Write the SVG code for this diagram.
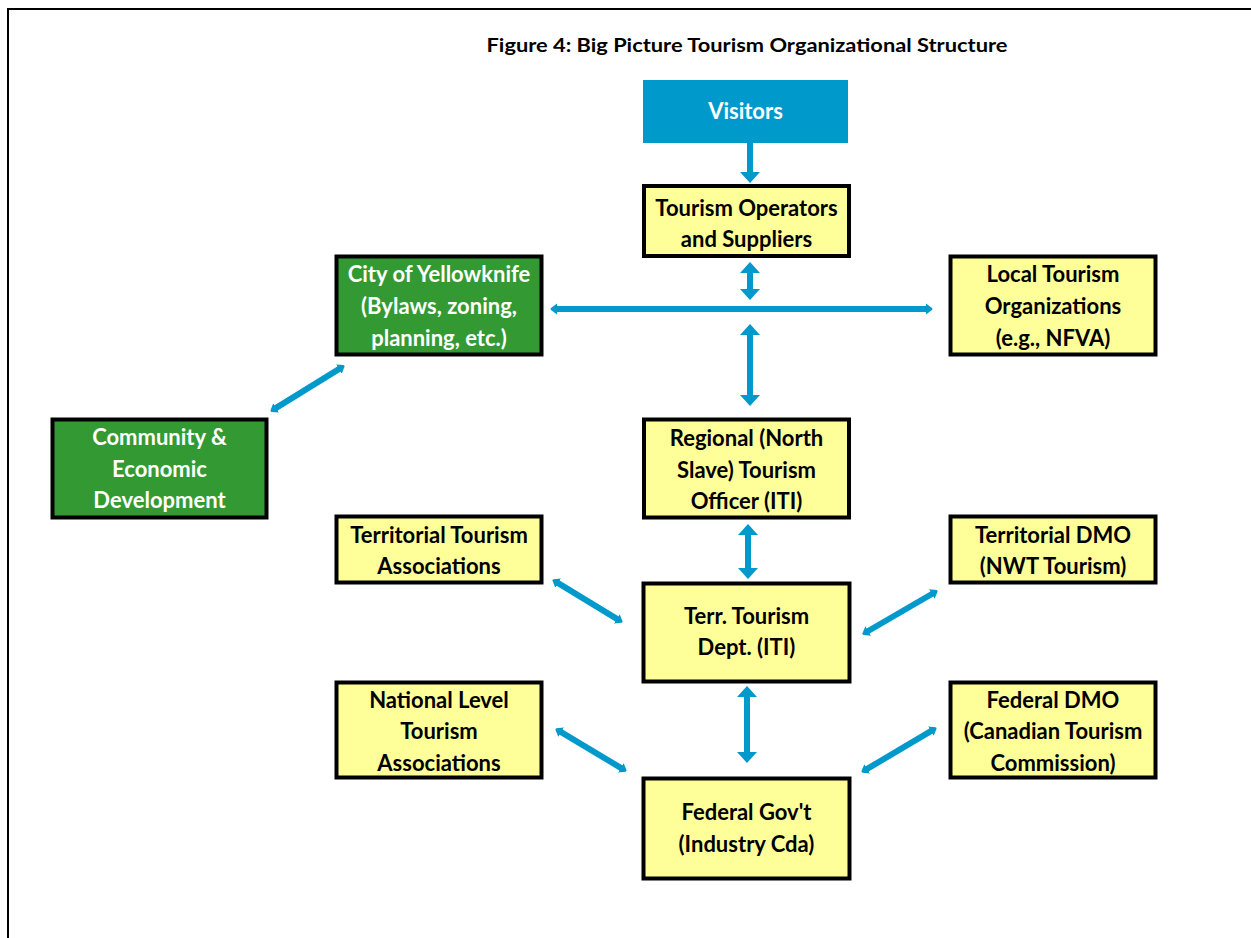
<svg xmlns="http://www.w3.org/2000/svg" width="1251" height="938" viewBox="0 0 1251 938">
<style>
.box{fill:#FFFF99;stroke:#000;stroke-width:4}
.green{fill:#339933;stroke:#000;stroke-width:4}
.blue{fill:#0099CC;stroke:none}
.t{font-family:Lato,"Liberation Sans",sans-serif;font-weight:bold;font-size:22px;text-anchor:middle;fill:#000}
.w{fill:#fff}
.c{stroke:#0099CC;stroke-width:6;fill:none}
</style>
<defs>
<marker id="big" viewBox="0 0 11 20" refX="1" refY="10" markerWidth="11" markerHeight="20" markerUnits="userSpaceOnUse" orient="auto-start-reverse">
<path d="M0,0 L11,10 L0,20 z" fill="#0099CC"/>
</marker>
<marker id="sm" viewBox="0 0 7 12" refX="1" refY="6" markerWidth="7" markerHeight="12" markerUnits="userSpaceOnUse" orient="auto-start-reverse">
<path d="M0,0.5 L6,5 Q7,6 6,7 L0,11.5 z" fill="#0099CC"/>
</marker>
</defs>
<rect width="1251" height="938" fill="#fff"/>
<path d="M8,938 V9 H1251" fill="none" stroke="#000" stroke-width="2"/>
<text x="747" y="52" style="font-family:Lato,'Liberation Sans',sans-serif;font-weight:bold;font-size:18px;text-anchor:middle" textLength="521" lengthAdjust="spacingAndGlyphs">Figure 4: Big Picture Tourism Organizational Structure</text>

<g id="connectors">
<line class="c" x1="750" y1="143" x2="750" y2="173" marker-end="url(#big)"/>
<line class="c" x1="750" y1="272" x2="750" y2="290" marker-start="url(#big)" marker-end="url(#big)"/>
<line class="c" x1="556" y1="309" x2="927" y2="309" marker-start="url(#sm)" marker-end="url(#sm)"/>
<line class="c" x1="750" y1="334" x2="750" y2="396" marker-start="url(#big)" marker-end="url(#big)"/>
<line class="c" x1="748" y1="534" x2="748" y2="569" marker-start="url(#big)" marker-end="url(#big)"/>
<line class="c" x1="747" y1="696" x2="747" y2="753" marker-start="url(#big)" marker-end="url(#big)"/>
<line class="c" x1="339.7" y1="368.6" x2="275.3" y2="408.4" marker-start="url(#sm)" marker-end="url(#sm)"/>
<line class="c" x1="557.3" y1="582.6" x2="617.7" y2="619.4" marker-start="url(#sm)" marker-end="url(#sm)"/>
<line class="c" x1="932.7" y1="593.5" x2="867.3" y2="631.5" marker-start="url(#sm)" marker-end="url(#sm)"/>
<line class="c" x1="560.3" y1="731.6" x2="621.7" y2="768.4" marker-start="url(#sm)" marker-end="url(#sm)"/>
<line class="c" x1="931.7" y1="730.6" x2="866.3" y2="769.4" marker-start="url(#sm)" marker-end="url(#sm)"/>
</g>

<g id="visitors">
<rect class="blue" x="643" y="80" width="205" height="63"/>
<text class="t w" x="745.5" y="119">Visitors</text>
</g>
<g id="operators">
<rect class="box" x="644" y="186" width="205" height="70"/>
<text class="t" x="746.5" y="216">Tourism Operators</text>
<text class="t" x="746.5" y="247">and Suppliers</text>
</g>
<g id="city">
<rect class="green" x="336.5" y="256.5" width="205" height="98"/>
<text class="t w" x="439" y="282">City of Yellowknife</text>
<text class="t w" x="439" y="314">(Bylaws, zoning,</text>
<text class="t w" x="439" y="346">planning, etc.)</text>
</g>
<g id="local">
<rect class="box" x="950.5" y="256.5" width="205" height="98"/>
<text class="t" x="1053" y="282">Local Tourism</text>
<text class="t" x="1053" y="314">Organizations</text>
<text class="t" x="1053" y="346">(e.g., NFVA)</text>
</g>
<g id="community">
<rect class="green" x="52.5" y="419.5" width="214" height="98"/>
<text class="t w" x="159.5" y="445">Community &amp;</text>
<text class="t w" x="159.5" y="477">Economic</text>
<text class="t w" x="159.5" y="508">Development</text>
</g>
<g id="regional">
<rect class="box" x="644" y="419.5" width="205" height="98"/>
<text class="t" x="746.5" y="446">Regional (North</text>
<text class="t" x="746.5" y="478">Slave) Tourism</text>
<text class="t" x="746.5" y="509">Officer (ITI)</text>
</g>
<g id="tta">
<rect class="box" x="336.5" y="516.5" width="205" height="66"/>
<text class="t" x="439" y="543">Territorial Tourism</text>
<text class="t" x="439" y="574">Associations</text>
</g>
<g id="tdmo">
<rect class="box" x="950.5" y="516.5" width="205" height="66"/>
<text class="t" x="1053" y="543">Territorial DMO</text>
<text class="t" x="1053" y="574">(NWT Tourism)</text>
</g>
<g id="dept">
<rect class="box" x="643.5" y="583.5" width="206" height="98"/>
<text class="t" x="746.5" y="624">Terr. Tourism</text>
<text class="t" x="746.5" y="655">Dept. (ITI)</text>
</g>
<g id="national">
<rect class="box" x="336.5" y="682.5" width="205" height="95"/>
<text class="t" x="439" y="708">National Level</text>
<text class="t" x="439" y="739">Tourism</text>
<text class="t" x="439" y="771">Associations</text>
</g>
<g id="fdmo">
<rect class="box" x="950.5" y="682.5" width="205" height="95"/>
<text class="t" x="1053" y="708">Federal DMO</text>
<text class="t" x="1053" y="739">(Canadian Tourism</text>
<text class="t" x="1053" y="771">Commission)</text>
</g>
<g id="federal">
<rect class="box" x="643.5" y="778.5" width="206" height="100"/>
<text class="t" x="746.5" y="820">Federal Gov't</text>
<text class="t" x="746.5" y="852">(Industry Cda)</text>
</g>
</svg>
